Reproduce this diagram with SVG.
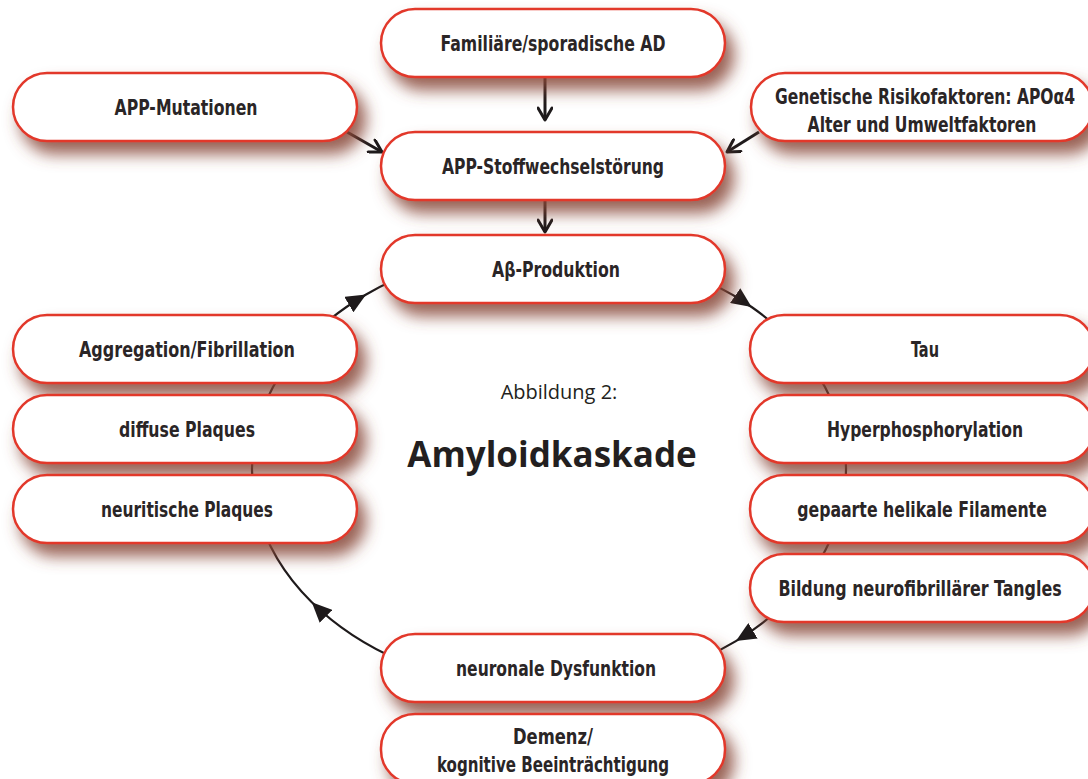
<svg xmlns="http://www.w3.org/2000/svg" width="1088" height="779" viewBox="0 0 1088 779">
<style>
  .box { fill: #ffffff; stroke: #e2372a; stroke-width: 2.5; filter: url(#shadow); }
  .lbl { font-family: "DejaVu Sans Condensed", "Liberation Sans Narrow", "Liberation Sans", sans-serif; font-weight: bold; font-size: 22px; fill: #2a2526; text-anchor: middle; }
  .arc { fill: none; stroke: #1e1a1b; stroke-width: 2.2; marker-mid: url(#tri); }
  .arcplain { fill: none; stroke: #1e1a1b; stroke-width: 2.2; }
  .str { fill: none; stroke: #1e1a1b; stroke-width: 3; marker-end: url(#open); }
  .title1 { font-family: "Open Sans", "DejaVu Sans", sans-serif; font-size: 20px; fill: #231f20; text-anchor: middle; }
  .title2 { font-family: "Open Sans", "DejaVu Sans", sans-serif; font-weight: bold; font-size: 35px; fill: #231f20; text-anchor: middle; }
</style>
<defs>
  <filter id="shadow" x="-20%" y="-50%" width="145%" height="210%">
    <feGaussianBlur in="SourceAlpha" stdDeviation="8"/>
    <feOffset dx="8" dy="12" result="b"/>
    <feFlood flood-color="#874637" flood-opacity="0.85"/>
    <feComposite in2="b" operator="in"/>
    <feMerge><feMergeNode/><feMergeNode in="SourceGraphic"/></feMerge>
  </filter>
  <marker id="tri" viewBox="0 0 20 18" refX="20" refY="9" markerWidth="20" markerHeight="18" markerUnits="userSpaceOnUse" orient="auto">
    <path d="M0,0 L20,9 L0,18 z" fill="#1e1a1b"/>
  </marker>
  <marker id="open" viewBox="0 0 16 16" refX="14" refY="8" markerWidth="16" markerHeight="16" markerUnits="userSpaceOnUse" orient="auto">
    <path d="M2,1 L14,8 L2,15" fill="none" stroke="#1e1a1b" stroke-width="3" stroke-linecap="round" stroke-linejoin="round"/>
  </marker>
</defs>
<rect width="1088" height="779" fill="#ffffff"/>

<g id="connectors">
  <path class="str" d="M545,77 L545,120"/>
  <path class="str" d="M545,200 L545,232"/>
  <path class="str" d="M347,132 L382,152"/>
  <path class="str" d="M759,132 L727,152"/>
  <path class="arc" d="M674.5,268.3 A297,221.5 0 0 1 751.6,307.0 A297,221.5 0 0 1 798.7,349.0"/>
  <path class="arcplain" d="M798.7,349.0 A297,221.5 0 0 1 841.1,429.0"/>
  <path class="arcplain" d="M841.1,429.0 A297,221.5 0 0 1 841.1,509.0"/>
  <path class="arcplain" d="M841.1,509.0 A297,221.5 0 0 1 799.5,588.0"/>
  <path class="arc" d="M799.5,588.0 A297,221.5 0 0 1 735.9,641.1 A297,221.5 0 0 1 697.5,660.8"/>
  <path class="arc" d="M400.5,660.8 A297,221.5 0 0 1 311.8,602.3 A297,221.5 0 0 1 256.9,509.0"/>
  <path class="arcplain" d="M256.9,509.0 A297,221.5 0 0 1 256.9,429.0"/>
  <path class="arcplain" d="M256.9,429.0 A297,221.5 0 0 1 299.3,349.0"/>
  <path class="arc" d="M299.3,349.0 A297,221.5 0 0 1 366.1,294.5 A297,221.5 0 0 1 423.5,268.3"/>
</g>

<g id="n-familiaer"><rect class="box" x="381" y="9" width="344" height="68" rx="34"/><text class="lbl" x="553" y="51" textLength="225" lengthAdjust="spacingAndGlyphs">Familiäre/sporadische AD</text></g>
<g id="n-appmut"><rect class="box" x="13" y="73" width="344" height="68" rx="34"/><text class="lbl" x="186" y="115" textLength="143" lengthAdjust="spacingAndGlyphs">APP-Mutationen</text></g>
<g id="n-genetisch"><rect class="box" x="751" y="73" width="342" height="68" rx="34"/><text class="lbl" transform="translate(925,104) scale(0.8,1)" x="0" y="0" textLength="375" lengthAdjust="spacingAndGlyphs">Genetische Risikofaktoren: APOα4</text><text class="lbl" transform="translate(922,132) scale(0.8,1)" x="0" y="0" textLength="286" lengthAdjust="spacingAndGlyphs">Alter und Umweltfaktoren</text></g>
<g id="n-stoffwechsel"><rect class="box" x="381" y="132" width="344" height="68" rx="34"/><text class="lbl" x="553" y="174" textLength="222" lengthAdjust="spacingAndGlyphs">APP-Stoffwechselstörung</text></g>
<g id="n-abeta"><rect class="box" x="381" y="235" width="344" height="68" rx="34"/><text class="lbl" x="556" y="277" textLength="128" lengthAdjust="spacingAndGlyphs">Aβ-Produktion</text></g>
<g id="n-tau"><rect class="box" x="750" y="315" width="344" height="68" rx="34"/><text class="lbl" x="925" y="357" textLength="28" lengthAdjust="spacingAndGlyphs">Tau</text></g>
<g id="n-hyper"><rect class="box" x="750" y="395" width="344" height="68" rx="34"/><text class="lbl" x="925" y="437" textLength="196" lengthAdjust="spacingAndGlyphs">Hyperphosphorylation</text></g>
<g id="n-gepaarte"><rect class="box" x="750" y="475" width="344" height="68" rx="34"/><text class="lbl" transform="translate(922,517) scale(0.8,1)" x="0" y="0" textLength="312" lengthAdjust="spacingAndGlyphs">gepaarte helikale Filamente</text></g>
<g id="n-bildung"><rect class="box" x="750" y="554" width="344" height="68" rx="34"/><text class="lbl" transform="translate(920,596) scale(0.8,1)" x="0" y="0" textLength="354" lengthAdjust="spacingAndGlyphs">Bildung neurofibrillärer Tangles</text></g>
<g id="n-aggregation"><rect class="box" x="13" y="315" width="344" height="68" rx="34"/><text class="lbl" x="187" y="357" textLength="216" lengthAdjust="spacingAndGlyphs">Aggregation/Fibrillation</text></g>
<g id="n-diffuse"><rect class="box" x="13" y="395" width="344" height="68" rx="34"/><text class="lbl" x="187" y="437" textLength="136" lengthAdjust="spacingAndGlyphs">diffuse Plaques</text></g>
<g id="n-neuritisch"><rect class="box" x="13" y="475" width="344" height="68" rx="34"/><text class="lbl" x="187" y="517" textLength="172" lengthAdjust="spacingAndGlyphs">neuritische Plaques</text></g>
<g id="n-neuronal"><rect class="box" x="381" y="634" width="344" height="68" rx="34"/><text class="lbl" x="556" y="676" textLength="200" lengthAdjust="spacingAndGlyphs">neuronale Dysfunktion</text></g>
<g id="n-demenz"><rect class="box" x="381" y="714" width="344" height="70" rx="34"/><text class="lbl" x="553" y="744" textLength="80" lengthAdjust="spacingAndGlyphs">Demenz/</text><text class="lbl" x="553" y="772" textLength="232" lengthAdjust="spacingAndGlyphs">kognitive Beeinträchtigung</text></g>

<g id="title">
  <text class="title1" x="559" y="399">Abbildung 2:</text>
  <text class="title2" x="552" y="467">Amyloidkaskade</text>
</g>
</svg>
